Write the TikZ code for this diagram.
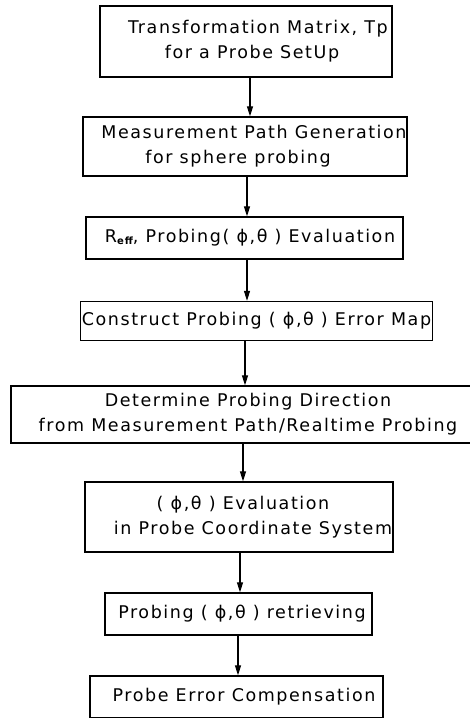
\documentclass[tikz,border=0pt]{standalone}
\usepackage{fontspec}
\setmainfont{DejaVu Sans}[LetterSpace=9]
\usetikzlibrary{arrows.meta}
% left padding of a text line inside a box
\newcommand{\padl}[1]{\hspace*{#1}}

\begin{document}
\begin{tikzpicture}[x=1pt, y=-1pt,
  box/.style={draw, line width=1.3pt, inner sep=0pt, align=center,
              font=\fontsize{17.5}{25}\selectfont},
  flow/.style={line width=1.1pt, -{Triangle[length=10pt,width=6pt]}}]
\useasboundingbox (0,0) rectangle (470,718);
\clip (0,0) rectangle (470,718);

% process boxes, top to bottom
\node[box, minimum width=292pt, minimum height=71pt] (b1) at (246,41.5)
  {\padl{24pt}Transformation Matrix, Tp\\\padl{12pt}for a Probe SetUp};
\node[box, minimum width=324pt, minimum height=59pt] (b2) at (245,146.5)
  {\padl{18pt}Measurement Path Generation\\for sphere probing\padl{14pt}};
\node[box, minimum width=317pt, minimum height=42pt] (b3) at (244.5,238)
  {\padl{11pt}R\raisebox{-1.5pt}{\fontsize{10}{10}\selectfont\bfseries eff}, Probing( ϕ,θ ) Evaluation};
\node[box, minimum width=352pt, minimum height=39pt] (b4) at (256.5,321)
  {Construct Probing ( ϕ,θ ) Error Map};
\node[box, minimum width=474pt, minimum height=57pt] (b5) at (248,414.5)
  {Determine Probing Direction\\from Measurement Path/Realtime Probing};
\node[box, minimum width=308pt, minimum height=70pt] (b6) at (239,517)
  {\padl{8pt}( ϕ,θ ) Evaluation\\\padl{28pt}in Probe Coordinate System};
\node[box, minimum width=267pt, minimum height=42pt] (b7) at (238.5,614)
  {\padl{7pt}Probing ( ϕ,θ ) retrieving};
\node[box, minimum width=293pt, minimum height=42pt] (b8) at (236.5,697)
  {\padl{15pt}Probe Error Compensation};

% connectors
\draw[flow] ([xshift=4pt]b1.south) -- ([xshift=5pt]b2.north);
\draw[flow] ([xshift=2pt]b2.south) -- ([xshift=2.5pt]b3.north);
\draw[flow] ([xshift=2.5pt]b3.south) -- ([xshift=-9.5pt]b4.north);
\draw[flow] ([xshift=-11.5pt]b4.south) -- ([xshift=-3pt]b5.north);
\draw[flow] ([xshift=-5pt]b5.south) -- ([xshift=4pt]b6.north);
\draw[flow] ([xshift=1pt]b6.south) -- ([xshift=1.5pt]b7.north);
\draw[flow] ([xshift=-0.5pt]b7.south) -- ([xshift=1.5pt]b8.north);
\end{tikzpicture}
\end{document}
